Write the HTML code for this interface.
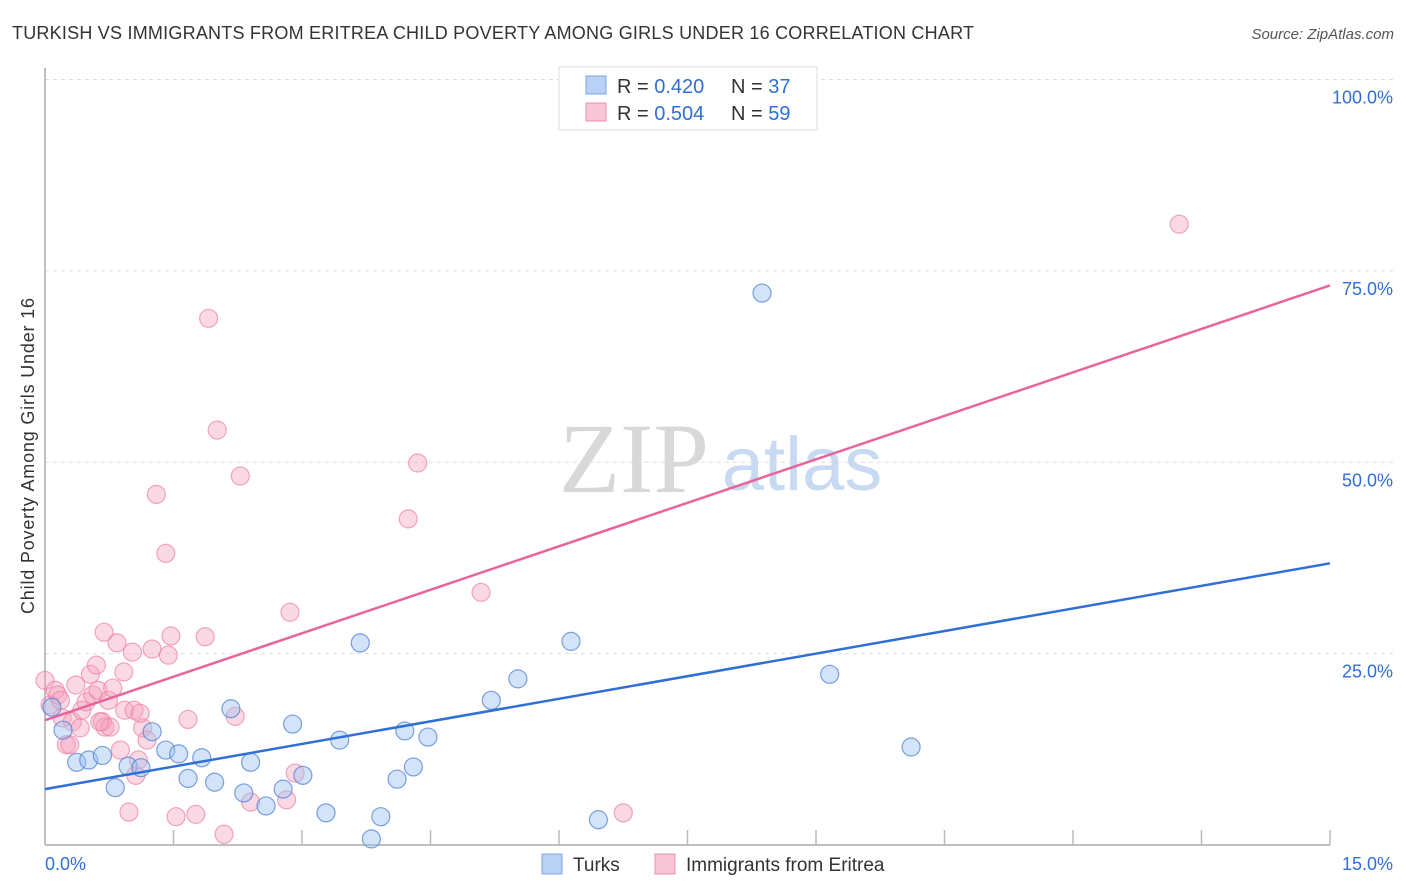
<!DOCTYPE html>
<html><head><meta charset="utf-8">
<style>
body{margin:0;background:#fff;width:1406px;height:892px;overflow:hidden;font-family:"Liberation Sans",sans-serif;}
svg{display:block}
</style></head>
<body>
<svg id="chart" width="1406" height="892">
<text x="12" y="39" font-size="18" fill="#333" textLength="962">TURKISH VS IMMIGRANTS FROM ERITREA CHILD POVERTY AMONG GIRLS UNDER 16 CORRELATION CHART</text>
<text x="1394" y="39" font-size="15" fill="#555" font-style="italic" text-anchor="end">Source: ZipAtlas.com</text>
<g>
<text x="634" y="492" font-size="100" font-family="Liberation Serif, serif" fill="#d8d8d8" text-anchor="middle">ZIP</text>
<text x="802" y="490" font-size="76" fill="#c8daf2" text-anchor="middle">atlas</text>
</g>
<g id="grid"></g>
<g id="axes"></g>
<g id="points"></g>
<g id="trends"></g>
<g>
<rect x="559" y="67" width="258" height="63" fill="#fff" stroke="#ddd"/>
<rect x="586" y="76" width="20" height="18" fill="#b8d2f5" stroke="#7aa6e0"/>
<text x="617" y="93" font-size="20" fill="#333">R = <tspan fill="#2f6fd6">0.420</tspan></text>
<text x="731" y="93" font-size="20" fill="#333">N = <tspan fill="#2f6fd6">37</tspan></text>
<rect x="586" y="103" width="20" height="18" fill="#f8c6d6" stroke="#ee8fb0"/>
<text x="617" y="120" font-size="20" fill="#333">R = <tspan fill="#2f6fd6">0.504</tspan></text>
<text x="731" y="120" font-size="20" fill="#333">N = <tspan fill="#2f6fd6">59</tspan></text>
</g>
<g>
<rect x="542" y="854" width="20" height="20" fill="#b8d2f5" stroke="#7aa6e0"/>
<text x="573" y="871" font-size="19" fill="#333">Turks</text>
<rect x="655" y="854" width="20" height="20" fill="#f8c6d6" stroke="#ee8fb0"/>
<text x="686" y="871" font-size="19" fill="#333">Immigrants from Eritrea</text>
</g>
<text transform="translate(34,456) rotate(-90)" font-size="18" fill="#333" text-anchor="middle" textLength="316">Child Poverty Among Girls Under 16</text>
</svg>
<script>
const yTicks=[25,50,75,100];
const yTickLabels=["25.0%","50.0%","75.0%","100.0%"];
const xTicks=[0,1.5,3,4.5,6,7.5,9,10.5,12,13.5,15];
const turksX=[0.08,0.21,0.37,0.51,0.67,0.82,0.97,1.12,1.25,1.41,1.56,1.67,1.83,1.98,2.17,2.32,2.40,2.58,2.78,2.89,3.01,3.28,3.44,3.68,3.81,3.92,4.11,4.20,4.30,4.47,5.21,5.52,6.14,6.46,8.37,9.16,10.11];
const turksY=[18.0,15.0,10.8,11.1,11.7,7.5,10.3,10.1,14.8,12.4,11.9,8.7,11.4,8.2,17.8,6.8,10.8,5.1,7.3,15.8,9.1,4.2,13.7,26.4,0.8,3.7,8.6,14.9,10.2,14.1,18.9,21.7,26.6,3.3,72.1,22.3,12.8];
const eritreaX=[0,0.06,0.12,0.15,0.20,0.25,0.29,0.32,0.36,0.41,0.43,0.48,0.53,0.56,0.60,0.62,0.67,0.70,0.74,0.79,0.88,0.92,0.69,0.84,0.93,0.98,1.02,1.04,1.06,1.09,1.14,1.19,1.25,1.30,1.41,1.44,1.47,1.53,1.67,1.76,1.87,1.91,2.01,2.09,2.22,2.28,2.40,2.82,2.86,2.92,4.24,4.35,5.09,6.75,13.24,1.11,0.76,0.18,0.64];
const eritreaY=[21.5,18.3,20.2,19.6,16.6,13.1,13.1,16.1,20.9,15.3,17.6,18.7,22.3,19.6,23.5,20.2,16.1,15.4,18.9,20.5,12.4,22.6,27.8,26.4,17.6,4.3,25.2,17.6,9.1,11.1,15.3,13.7,25.6,45.8,38.1,24.8,27.3,3.7,16.4,4.0,27.2,68.8,54.2,1.4,16.8,48.2,5.6,5.9,30.4,9.4,42.6,49.9,33.0,4.2,81.1,17.2,15.4,18.9,16.1];
const trendTurks=[7.3,36.8];
const trendEritrea=[16.3,73.1];

const NS="http://www.w3.org/2000/svg";
const X=v=>45+v*(1330-45)/15;
const Y=v=>845-v*(845-79.5)/100;
function mk(tag,attrs,parent){const e=document.createElementNS(NS,tag);for(const k in attrs)e.setAttribute(k,attrs[k]);parent.appendChild(e);return e;}
const grid=document.getElementById('grid'),axes=document.getElementById('axes'),pts=document.getElementById('points'),tr=document.getElementById('trends');
yTicks.forEach((t,i)=>{
 const l=mk('line',{x1:45,x2:1395,y1:Y(t),y2:Y(t),stroke:'#ddd','stroke-dasharray':'4,4'},grid);
 
 
 const tx=mk('text',{x:1393,y:Y(t)+24,'font-size':18,fill:'#2f6fd6','text-anchor':'end'},axes);
 tx.textContent=yTickLabels[i];
 
 
});
const tl=mk('line',{x1:45,x2:1395,y1:79.5,y2:79.5,stroke:'#ddd','stroke-dasharray':'4,4'},grid);


const ya=mk('line',{x1:45,x2:45,y1:68,y2:845,stroke:'#aaa','stroke-width':1.5},axes);


const xa=mk('line',{x1:45,x2:1330,y1:845,y2:845,stroke:'#aaa','stroke-width':1.5},axes);


xTicks.forEach(t=>{
 const l=mk('line',{x1:X(t),x2:X(t),y1:830,y2:845,stroke:'#bbb','stroke-width':1.5},axes);
 
 
});
const x0=mk('text',{x:45,y:870,'font-size':18,fill:'#2f6fd6'},axes);x0.textContent='0.0%';


const x1=mk('text',{x:1393,y:870,'font-size':18,fill:'#2f6fd6','text-anchor':'end'},axes);x1.textContent='15.0%';


eritreaX.forEach((v,i)=>{
 const c=mk('circle',{cx:X(v),cy:Y(eritreaY[i]),r:9,fill:'rgba(244,160,188,0.4)',stroke:'rgba(236,130,165,0.7)','stroke-width':1.2},pts);
 
 
});
turksX.forEach((v,i)=>{
 const c=mk('circle',{cx:X(v),cy:Y(turksY[i]),r:9,fill:'rgba(160,196,240,0.45)',stroke:'rgba(80,130,215,0.75)','stroke-width':1.2},pts);
 
 
});
const lt=mk('line',{x1:X(0),y1:Y(trendTurks[0]),x2:X(15),y2:Y(trendTurks[1]),stroke:'#2f6fd6','stroke-width':2.5},tr);


const le=mk('line',{x1:X(0),y1:Y(trendEritrea[0]),x2:X(15),y2:Y(trendEritrea[1]),stroke:'#e8649a','stroke-width':2.5},tr);


</script>
</body></html>
